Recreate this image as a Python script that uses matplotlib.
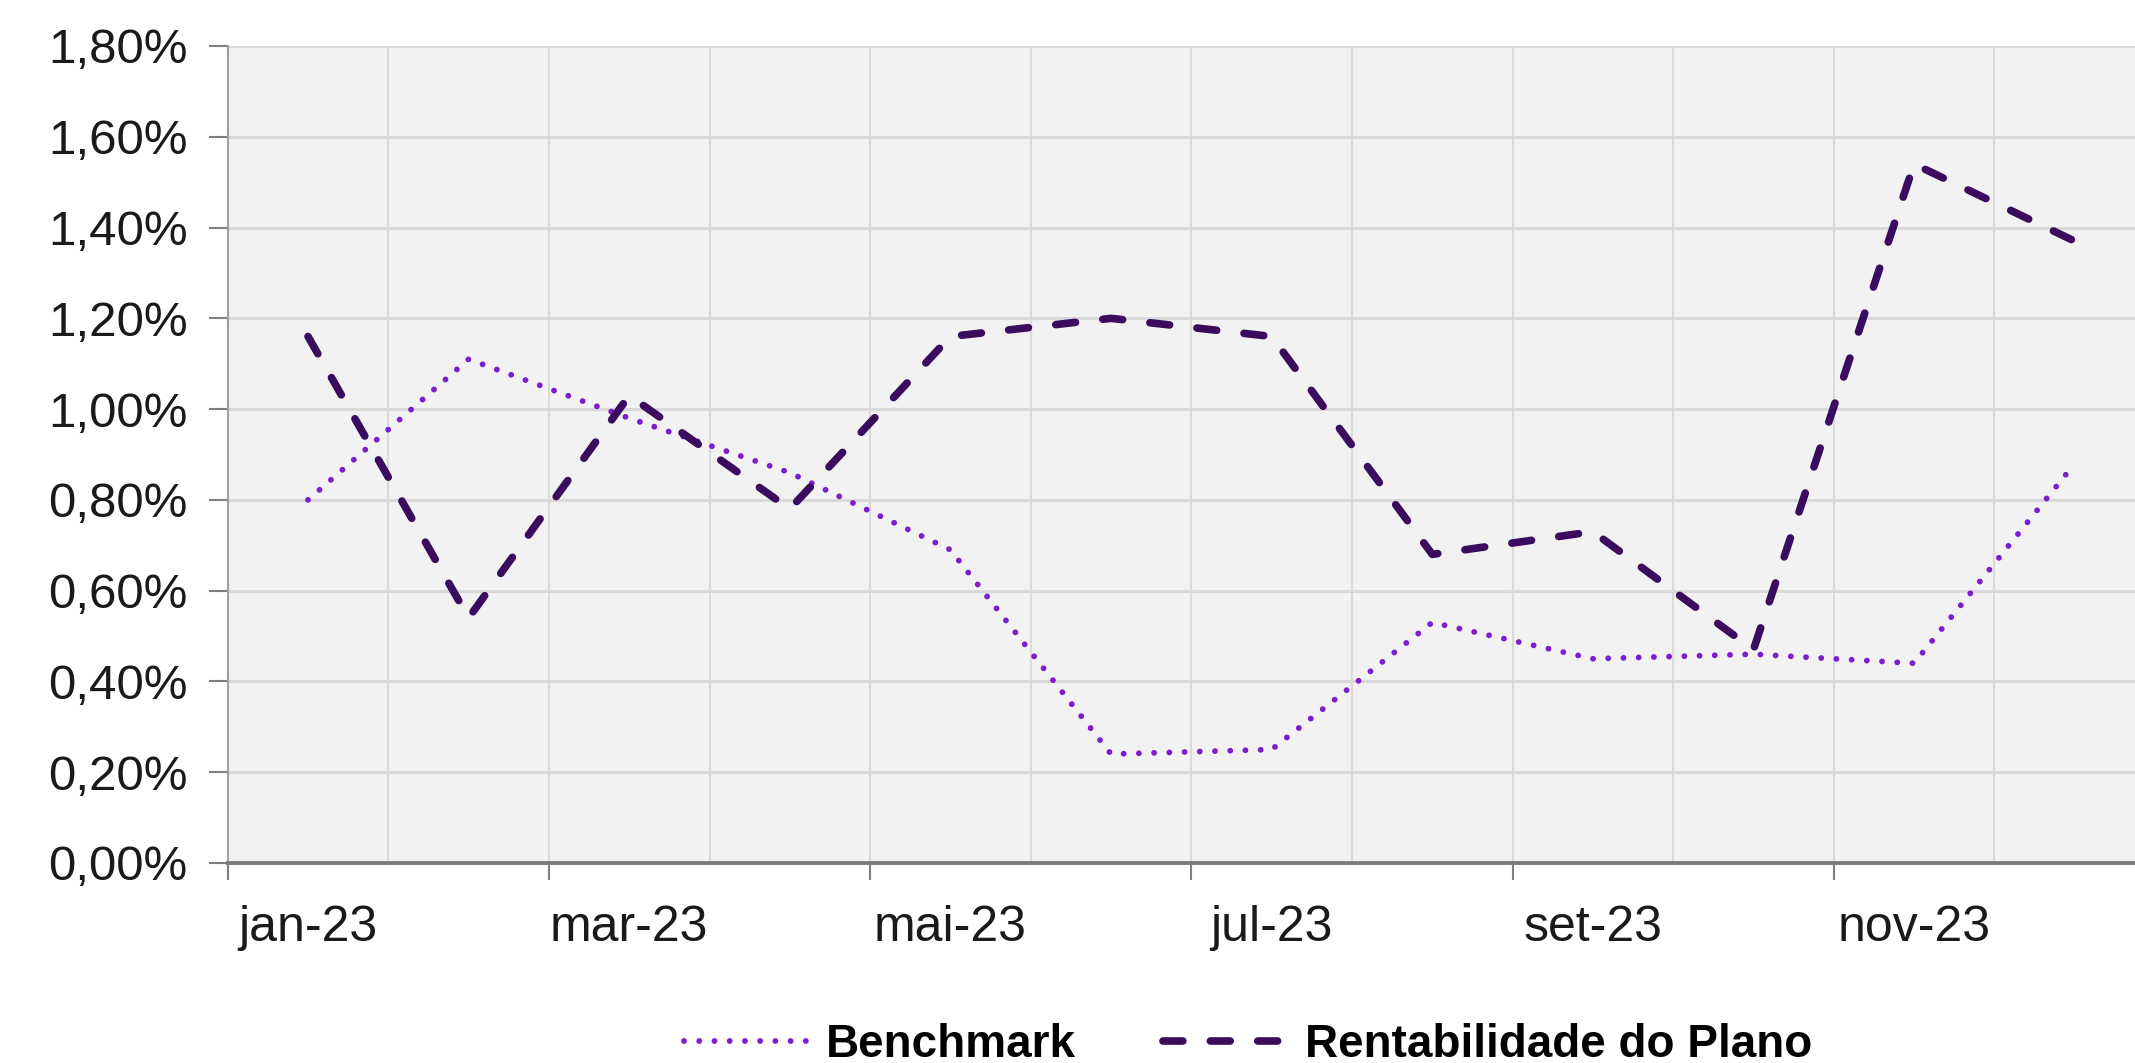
import matplotlib
matplotlib.use("Agg")
import matplotlib.pyplot as plt
from matplotlib.ticker import FuncFormatter, FixedLocator

months = ["jan-23", "fev-23", "mar-23", "abr-23", "mai-23", "jun-23",
          "jul-23", "ago-23", "set-23", "out-23", "nov-23", "dez-23"]
benchmark = [0.80, 1.11, 0.98, 0.86, 0.69, 0.24, 0.25, 0.53, 0.45, 0.46, 0.44, 0.88]
rentabilidade = [1.16, 0.54, 1.03, 0.78, 1.16, 1.20, 1.16, 0.68, 0.73, 0.47, 1.54, 1.37]
yticks = [0.0, 0.2, 0.4, 0.6, 0.8, 1.0, 1.2, 1.4, 1.6, 1.8]

plt.rcParams['font.family'] = ['Liberation Sans', 'DejaVu Sans']

W, H = 2135, 1063
fig = plt.figure(figsize=(W / 100, H / 100), dpi=100)
fig.patch.set_facecolor('white')
left, bottom, top, right = 227.7, 863.0, 46.0, 2155.0
ax = fig.add_axes([left / W, (H - bottom) / H, (right - left) / W, (bottom - top) / H])
ax.set_facecolor('#F2F2F2')

x = list(range(len(months)))
l1, = ax.plot(x, benchmark, color='#7A1FD0', lw=4.2, linestyle=(0, (0.01, 2.6)),
              dash_capstyle='round', solid_capstyle='round', label='Benchmark', zorder=3)
l2, = ax.plot(x, rentabilidade, color='#3B0C5E', lw=5.5, linestyle=(0, (2.6, 3.6)),
              dash_capstyle='round', dash_joinstyle='round', label='Rentabilidade do Plano', zorder=4)

ax.set_xlim(-0.5, len(months) - 0.5)
ax.set_ylim(0, 1.8)

# y axis
ax.set_yticks(yticks)
ax.yaxis.set_major_formatter(FuncFormatter(lambda v, p: f"{v:.2f}%".replace('.', ',')))
ax.tick_params(axis='y', length=14, width=1.5, color='#808080', pad=15, labelsize=35.5,
               labelcolor='#1a1a1a')
ax.grid(axis='y', which='major', color='#D9D9D9', lw=2.2, zorder=0)

# x axis: boundaries
bounds = [i - 0.5 for i in range(len(months) + 1)]
ax.xaxis.set_major_locator(FixedLocator(bounds[:-1:2]))
ax.xaxis.set_minor_locator(FixedLocator(bounds))
ax.tick_params(axis='x', which='major', length=12, width=1.5, color='#808080', labelbottom=False)
ax.tick_params(axis='x', which='minor', length=0)
ax.grid(axis='x', which='both', color='#DADADA', lw=1.5, zorder=0)
ax.set_axisbelow(True)

sec = ax.secondary_xaxis('bottom')
sec.set_xticks(x[::2], months[::2])
sec.tick_params(length=0, pad=30, labelsize=36, labelcolor='#1a1a1a')
sec.spines['bottom'].set_visible(False)

for s in ['top', 'right']:
    ax.spines[s].set_visible(False)
ax.spines['left'].set_color('#A0A0A0')
ax.spines['left'].set_linewidth(1.5)
ax.spines['bottom'].set_color('#7A7A7A')
ax.spines['bottom'].set_linewidth(2.8)

leg = fig.legend(handles=[l1, l2], loc='center left', bbox_to_anchor=(0.301, 0.017),
                 ncol=2, frameon=False, handlelength=2.8, handletextpad=0.3,
                 columnspacing=1.9, prop={'weight': 'bold', 'size': 33})

fig.savefig('out.png', dpi=100)
